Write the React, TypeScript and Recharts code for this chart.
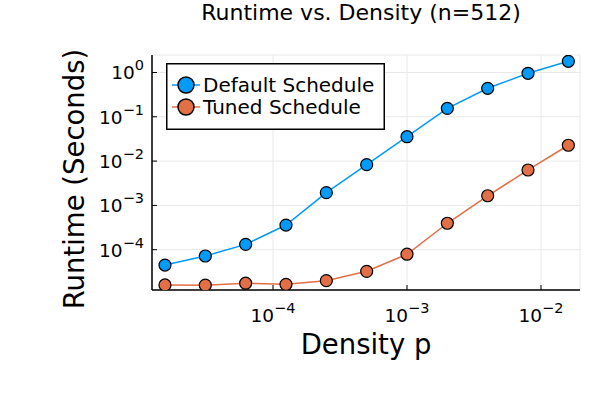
import React from 'react'
import { LineChart, Line, XAxis, YAxis, CartesianGrid, Legend, Label } from 'recharts'

const density = [1.5625e-5, 3.125e-5, 6.25e-5, 1.25e-4, 2.5e-4, 5e-4, 1e-3, 2e-3, 4e-3, 8e-3, 1.6e-2]
const defaultRuntime = [4.5e-5, 7.2e-5, 1.32e-4, 3.6e-4, 1.94e-3, 8.3e-3, 3.55e-2, 0.155, 0.44, 0.96, 1.79]
const tunedRuntime = [1.6e-5, 1.58e-5, 1.75e-5, 1.65e-5, 2.0e-5, 3.25e-5, 7.9e-5, 3.95e-4, 1.65e-3, 6.3e-3, 2.28e-2]

const xTicks = [1e-4, 1e-3, 1e-2]
const yTicks = [1e-4, 1e-3, 1e-2, 1e-1, 1]

const seriesNames = ['Default Schedule', 'Tuned Schedule']
const seriesColors = ['#009AFA', '#E26F46']

const FONT = 'DejaVu Sans'

const data = density.map((p, i) => ({
  p,
  def: defaultRuntime[i],
  tuned: tunedRuntime[i],
}))

function expLabel(v: number) {
  return String(Math.round(Math.log10(v))).replace('-', '\u2212')
}

function XTick(props: any) {
  const { x, y, payload } = props
  return (
    <g>
      <line x1={x} y1={y} x2={x} y2={y - 5} stroke="#000" strokeWidth={1} />
      <text x={x} y={y + 32} textAnchor="middle" fontFamily={FONT} fontSize={18.5} fill="#000">
        10
        <tspan dy={-9} fontSize={14.5}>{expLabel(payload.value)}</tspan>
      </text>
    </g>
  )
}

function YTick(props: any) {
  const { x, y, payload } = props
  return (
    <g>
      <line x1={x} y1={y} x2={x + 5} y2={y} stroke="#000" strokeWidth={1} />
      <text x={x - 8} y={y + 7} textAnchor="end" fontFamily={FONT} fontSize={18.5} fill="#000">
        10
        <tspan dy={-9} fontSize={14.5}>{expLabel(payload.value)}</tspan>
      </text>
    </g>
  )
}

function Dot(props: any) {
  const { cx, cy, fill } = props
  if (cx == null || cy == null) return null
  return <circle cx={cx} cy={cy} r={6} fill={fill} stroke="#000" strokeWidth={1.2} />
}

function LegendBox() {
  return (
    <svg width={219} height={67} style={{ display: 'block' }}>
      <rect x={0.75} y={0.75} width={217.5} height={65.5} fill="#fff" stroke="#000" strokeWidth={1.5} />
      {seriesNames.map((name, i) => {
        const cy = 22 + i * 22
        return (
          <g key={name}>
            <line x1={6} y1={cy} x2={34} y2={cy} stroke={seriesColors[i]} strokeWidth={1.5} />
            <circle cx={20} cy={cy} r={8} fill={seriesColors[i]} stroke="#000" strokeWidth={1.5} />
            <text x={37} y={cy + 7} fontFamily={FONT} fontSize={20} fill="#000">
              {name}
            </text>
          </g>
        )
      })}
    </svg>
  )
}

export default function App() {
  return (
    <div style={{ position: 'absolute', left: 0, top: 0, width: 600, height: 400, background: '#fff' }}>
      <LineChart width={600} height={400} data={data} margin={{ top: 55, right: 20, left: 0, bottom: 0 }}>
        <CartesianGrid stroke="#e8e8e8" strokeWidth={1} />
        <XAxis
          dataKey="p"
          type="number"
          scale="log"
          domain={[Math.pow(10, -4.903), Math.pow(10, -1.709)]}
          allowDataOverflow
          ticks={xTicks}
          tick={<XTick />}
          tickLine={false}
          tickSize={0}
          tickMargin={0}
          height={110}
          axisLine={{ stroke: '#000', strokeWidth: 1.5 }}
        >
          <Label
            content={() => (
              <text x={366} y={354} textAnchor="middle" fontFamily={FONT} fontSize={27.5} fill="#000">
                Density p
              </text>
            )}
          />
        </XAxis>
        <YAxis
          type="number"
          scale="log"
          domain={[Math.pow(10, -4.91), Math.pow(10, 0.395)]}
          allowDataOverflow
          ticks={yTicks}
          tick={<YTick />}
          tickLine={false}
          tickSize={0}
          tickMargin={0}
          width={152}
          axisLine={{ stroke: '#000', strokeWidth: 1.5 }}
        >
          <Label
            content={() => (
              <text
                x={84}
                y={179}
                textAnchor="middle"
                fontFamily={FONT}
                fontSize={27.5}
                fill="#000"
                transform="rotate(-90 84 179)"
              >
                Runtime (Seconds)
              </text>
            )}
          />
          <Label
            content={() => (
              <text x={361} y={20} textAnchor="middle" fontFamily={FONT} fontSize={22} fill="#000">
                Runtime vs. Density (n=512)
              </text>
            )}
          />
        </YAxis>
        <Legend
          layout="horizontal"
          verticalAlign="middle"
          align="center"
          wrapperStyle={{ position: 'absolute', left: 166, top: 63, width: 'auto' }}
          content={() => <LegendBox />}
        />
        <Line
          dataKey="def"
          name={seriesNames[0]}
          stroke={seriesColors[0]}
          strokeWidth={1.5}
          dot={<Dot fill={seriesColors[0]} />}
          activeDot={false}
          isAnimationActive={false}
        />
        <Line
          dataKey="tuned"
          name={seriesNames[1]}
          stroke={seriesColors[1]}
          strokeWidth={1.5}
          dot={<Dot fill={seriesColors[1]} />}
          activeDot={false}
          isAnimationActive={false}
        />
      </LineChart>
    </div>
  )
}
